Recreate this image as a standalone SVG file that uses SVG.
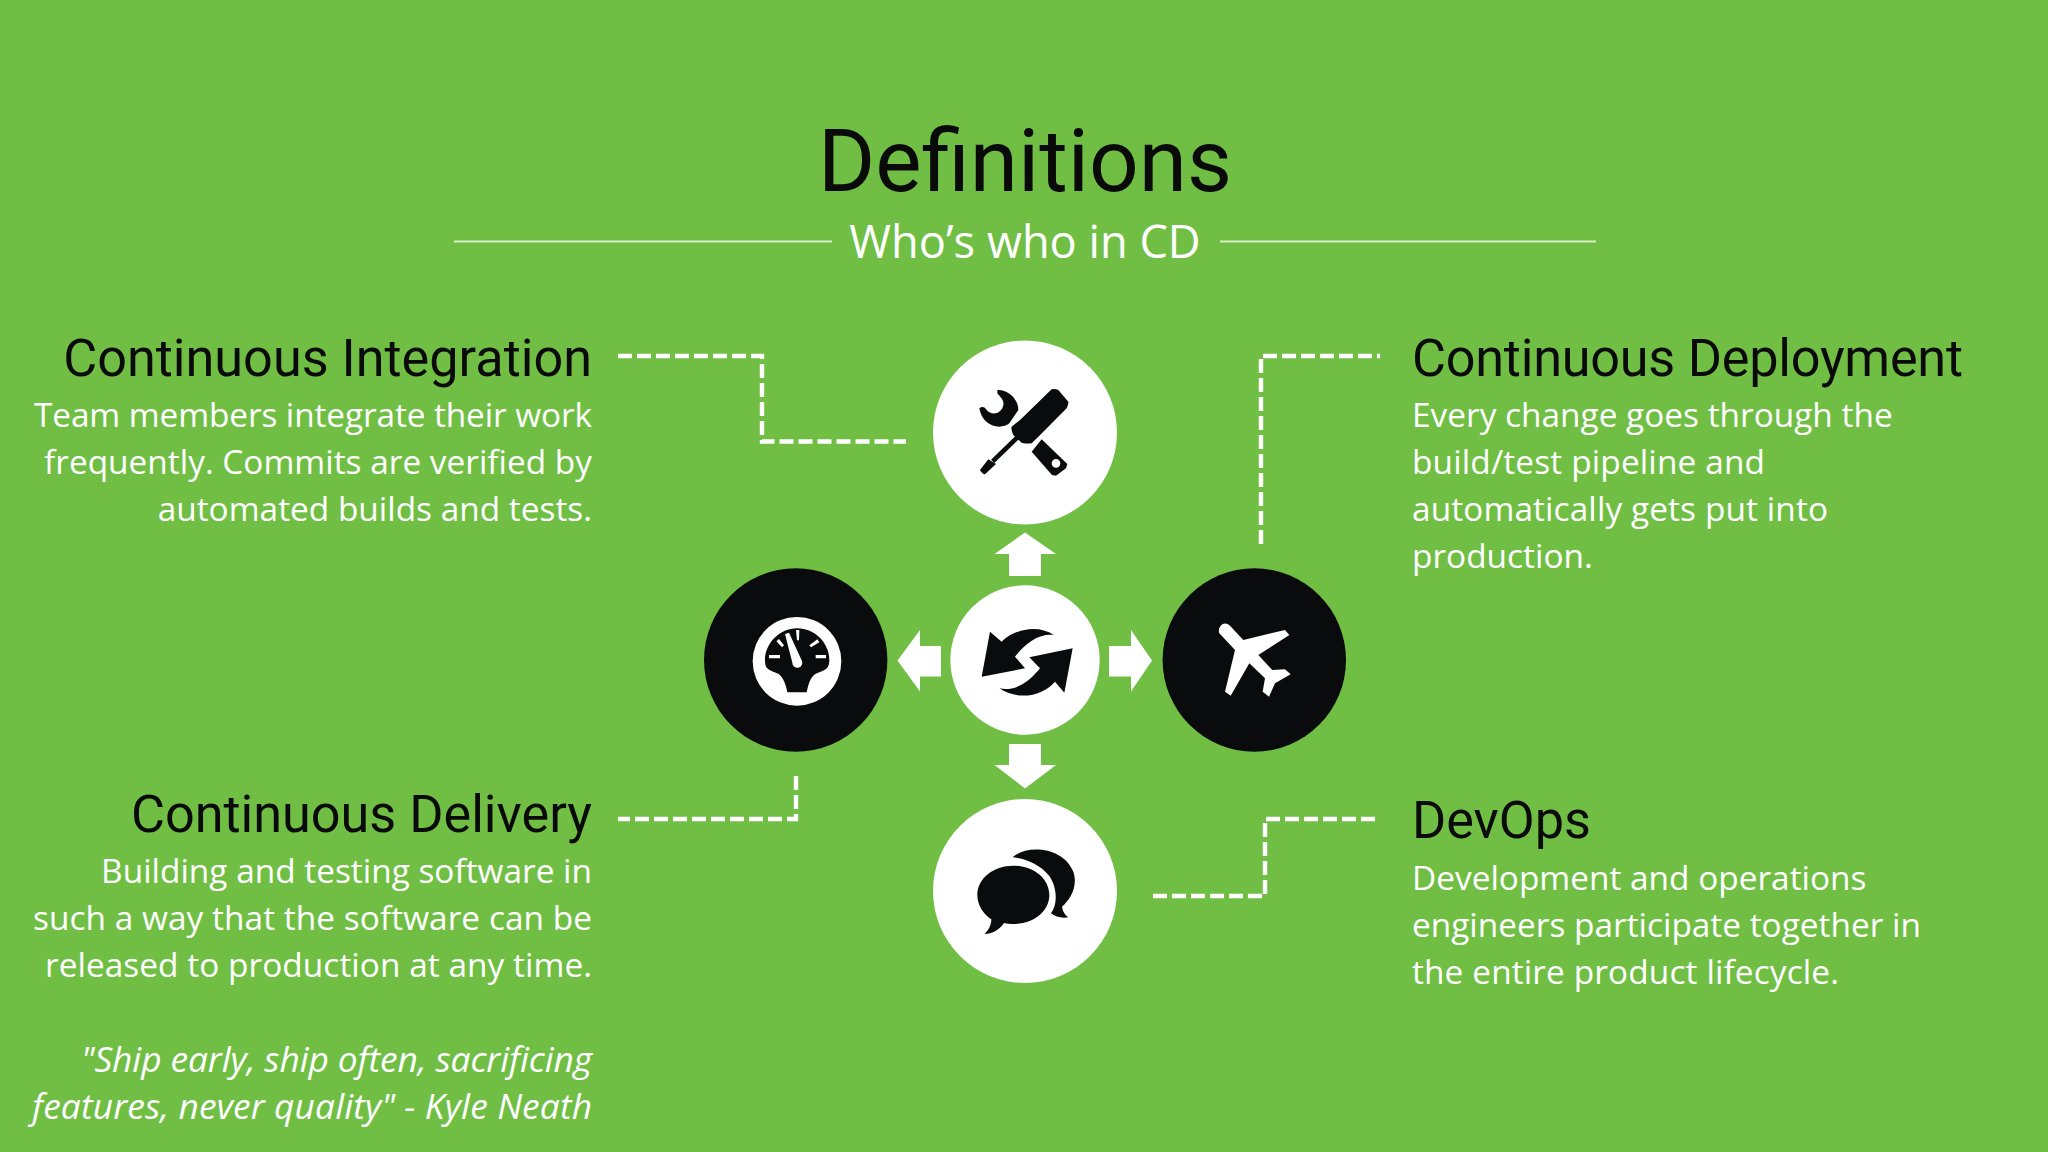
<svg xmlns="http://www.w3.org/2000/svg" width="2048" height="1152" viewBox="0 0 2048 1152">
<style>
.h{font-family:Roboto,"Liberation Sans",sans-serif;fill:#0a0a0a}
.hd{font-size:52.200px}
.b{font-family:"Open Sans","Noto Sans",sans-serif;font-size:33.400px;fill:#fff}
.r{text-anchor:end}
.i{font-style:italic;font-size:35.300px}
.d{fill:none;stroke:#fff;stroke-width:4.400;stroke-dasharray:14 5}
.k{fill:#0a0b0c}
.w{fill:#fff}
</style>
<rect width="2048" height="1152" fill="#70bf44"/>
<g id="header">
<text class="h" x="1025" y="191" font-size="87.300" text-anchor="middle">Definitions</text>
<text class="b" x="1025" y="258" style="font-size:45.200px" text-anchor="middle">Who’s who in CD</text>
<path d="M454 241.500H832M1220 241.500H1596" stroke="#d9f0c8" stroke-width="2" fill="none"/>
</g>
<g id="connectors">
<path class="d" d="M618 356H762V441.500H906"/>
<path class="d" d="M1261 544V356H1380"/>
<path class="d" d="M796 776V819H618"/>
<path class="d" d="M1150 896H1265V819H1377" stroke-dashoffset="-3"/>
</g>
<g id="arrows" class="w">
<path d="M1025 532.500L1056 554H1041V576H1009V554H994.500Z"/>
<path d="M1025 788.500L1056 765H1041V744H1009V765H994.500Z"/>
<path d="M897.500 660.500L920 630V646H941V676.500H920V691.500Z"/>
<path d="M1152 660.500L1131 630V646H1109V676.500H1131V691.500Z"/>
</g>
<g id="node-integration">
<circle class="w" cx="1025" cy="432.500" r="92"/>
<g transform="translate(920 340) scale(.33333)">
<path class="k" d="M232 150C262 148 295 175 295 210L268 250C240 272 186 258 178 205C185 198 195 200 200 210C215 228 245 222 250 195C253 180 240 170 232 160Z"/>
<path class="k" d="M395 148Q405 146 415 150L445 185Q446 195 440 205L355 290L335 310Q318 312 305 308L280 285Q272 270 275 260L300 240Z"/>
<path d="M292 292L218 364" stroke="#0a0b0c" stroke-width="14" fill="none"/>
<path class="k" d="M180 390L205 358L228 372L195 403Q186 402 180 390Z"/>
<path class="k" fill-rule="evenodd" d="M365 298L442 372L438 385L408 407L396 405L335 335ZM408 357A13 13 0 1 0 408 383A13 13 0 1 0 408 357Z"/>
</g>
<text class="h hd r" x="592" y="376">Continuous Integration</text>
<text class="b r" x="592" y="427" textLength="558">Team members integrate their work</text>
<text class="b r" x="592" y="474">frequently. Commits are verified by</text>
<text class="b r" x="592" y="521">automated builds and tests.</text>
</g>
<g id="node-deployment">
<circle class="k" cx="1254.300" cy="660" r="91.700"/>
<g transform="translate(1160 565) scale(.33333)">
<path class="w" d="M178 205Q172 190 188 177Q200 172 210 182L250 225L375 195L388 210L295 270L337 315L375 313L392 328L345 355L327 395L308 380L315 340L268 295L212 392L195 380L225 255Z"/>
</g>
<text class="h hd" x="1412" y="376" textLength="551">Continuous Deployment</text>
<text class="b" x="1412" y="427">Every change goes through the</text>
<text class="b" x="1412" y="474" textLength="353">build/test pipeline and</text>
<text class="b" x="1412" y="521" textLength="416">automatically gets put into</text>
<text class="b" x="1412" y="568">production.</text>
</g>
<g id="node-delivery">
<circle class="k" cx="795.700" cy="660" r="91.700"/>
<g transform="translate(700 565) scale(.33333)">
<circle class="w" cx="291" cy="289" r="133"/>
<path class="k" d="M195 285C195 235 240 190 291 190C345 190 388 235 388 285C388 300 384 306 380 310C370 320 355 322 345 328C330 338 325 360 320 382H262C258 360 250 338 237 328C227 322 212 320 202 310C198 306 195 300 195 285Z"/>
<path class="w" d="M255 207L267 203L306 288A15 15 0 1 1 277 293ZM288 195H298L297 226H291ZM229 229L237 222L252 241L246 247ZM352 223L358 232L333 247L328 241ZM207 270H240V280H207ZM347 270H378V280H347Z"/>
</g>
<text class="h hd r" x="592" y="832">Continuous Delivery</text>
<text class="b r" x="592" y="883">Building and testing software in</text>
<text class="b r" x="592" y="930" textLength="559">such a way that the software can be</text>
<text class="b r" x="592" y="977" textLength="547">released to production at any time.</text>
<text class="b r i" x="592" y="1072" textLength="511">"Ship early, ship often, sacrificing</text>
<text class="b r i" x="592" y="1119" textLength="560">features, never quality" - Kyle Neath</text>
</g>
<g id="node-devops">
<circle class="w" cx="1025" cy="891" r="92"/>
<g transform="translate(930 800) scale(.33333)" class="k">
<path d="M250 197C310 197 358 235 358 285C358 335 310 372 250 372C240 372 230 371 222 369C212 385 190 402 164 402C176 390 184 375 184 358C160 342 142 315 142 285C142 235 190 197 250 197Z"/>
<path d="M248 172C290 132 400 140 430 215C445 260 420 300 396 320C398 335 405 345 415 352C395 356 375 350 363 340C385 310 380 260 358 228C330 192 285 175 248 172Z"/>
</g>
<text class="h hd" x="1412" y="838">DevOps</text>
<text class="b" x="1412" y="890">Development and operations</text>
<text class="b" x="1412" y="937">engineers participate together in</text>
<text class="b" x="1412" y="984" textLength="427">the entire product lifecycle.</text>
</g>
<g id="node-hub">
<circle class="w" cx="1025" cy="660" r="74.700"/>
<g transform="translate(930 570) scale(.33333)" class="k">
<path d="M180 185L215 215C250 180 320 160 372 195C330 190 290 215 255 260L285 295L155 320Z"/>
<path d="M428 235L403 368L375 335C340 375 270 395 208 355C250 365 295 340 330 295L298 262Z"/>
</g>
</g>
</svg>
